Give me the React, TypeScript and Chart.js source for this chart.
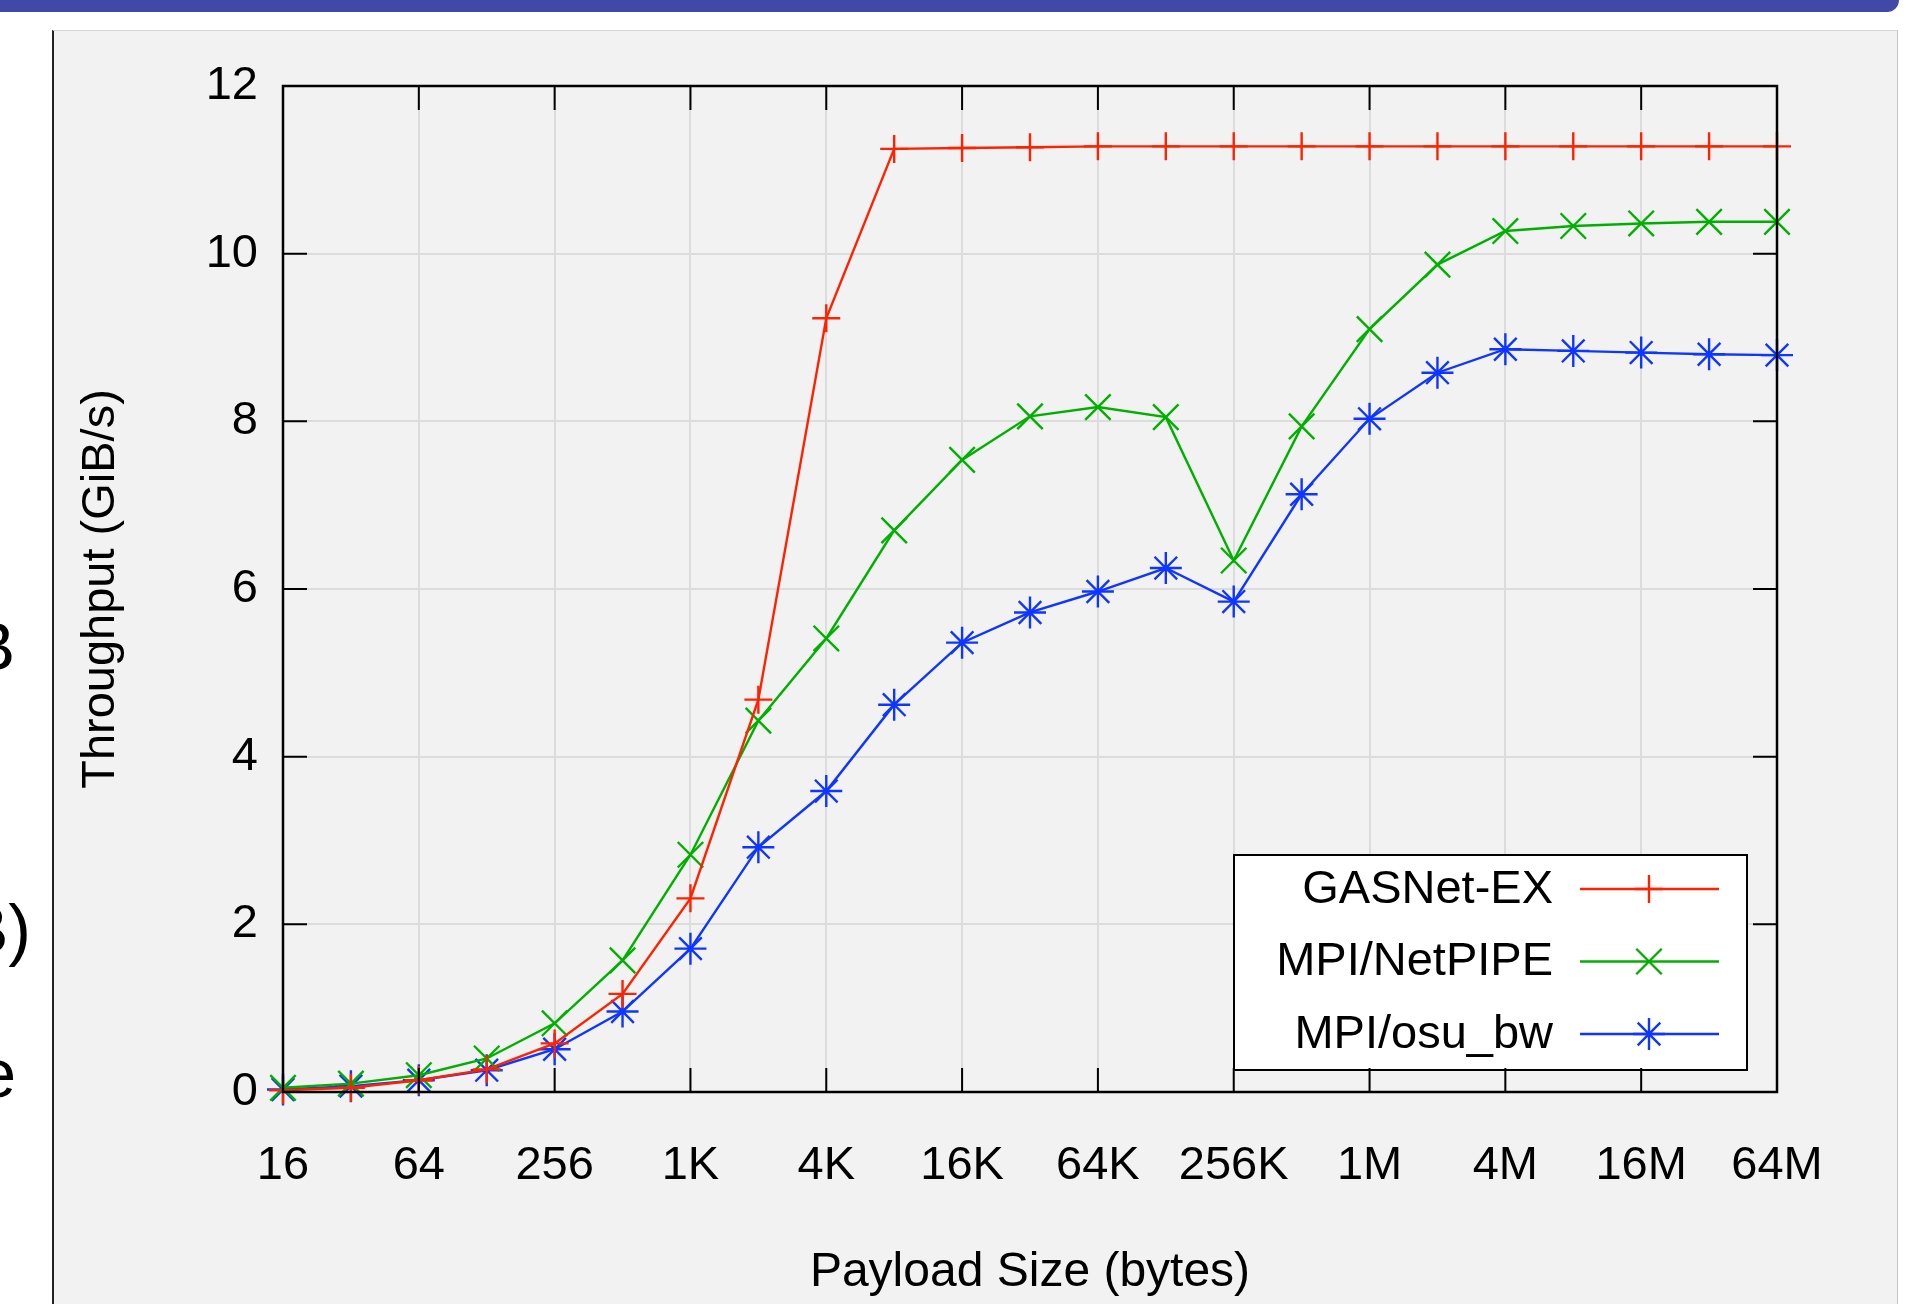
import React, { useEffect, useRef } from 'react';
import { Chart, registerables } from 'chart.js';

Chart.register(...registerables);

// ---- data ----
const sizes = ['16', '32', '64', '128', '256', '512', '1K', '2K', '4K', '8K', '16K', '32K', '64K', '128K', '256K', '512K', '1M', '2M', '4M', '8M', '16M', '32M', '64M'];
const xTickLabels = ['16', '64', '256', '1K', '4K', '16K', '64K', '256K', '1M', '4M', '16M', '64M'];
const yTicks = [0, 2, 4, 6, 8, 10, 12];
const gasnetEx = [0.02, 0.05, 0.14, 0.27, 0.58, 1.17, 2.31, 4.68, 9.23, 11.25, 11.26, 11.27, 11.28, 11.28, 11.28, 11.28, 11.28, 11.28, 11.28, 11.28, 11.28, 11.28, 11.28];
const mpiNetpipe = [0.05, 0.10, 0.20, 0.40, 0.82, 1.57, 2.83, 4.43, 5.41, 6.70, 7.54, 8.06, 8.17, 8.05, 6.34, 7.94, 9.10, 9.87, 10.27, 10.33, 10.36, 10.38, 10.38];
const mpiOsuBw = [0.03, 0.07, 0.14, 0.26, 0.51, 0.96, 1.71, 2.92, 3.59, 4.62, 5.36, 5.72, 5.97, 6.25, 5.85, 7.13, 8.03, 8.58, 8.86, 8.84, 8.82, 8.80, 8.79];
const seriesNames = ['GASNet-EX', 'MPI/NetPIPE', 'MPI/osu_bw'];

const FONT_FAMILY = '"Liberation Sans", Arial, Helvetica, sans-serif';
const FONT_SIZE = 47;
const RED = '#ff2200';
const GREEN = '#00b000';
const BLUE = '#0f36ff';
const LINE_W = 2.4;

function drawMarker(ctx: CanvasRenderingContext2D, style: string, x: number, y: number, r: number) {
  ctx.beginPath();
  const cross = (rad: number) => {
    const c = Math.cos(rad) * r;
    const s = Math.sin(rad) * r;
    ctx.moveTo(x - c, y - s);
    ctx.lineTo(x + c, y + s);
    ctx.moveTo(x + s, y - c);
    ctx.lineTo(x - s, y + c);
  };
  if (style === 'cross') cross(0);
  else if (style === 'crossRot') cross(Math.PI / 4);
  else {
    cross(0);
    cross(Math.PI / 4);
  }
  ctx.stroke();
}

const framePlugin = {
  id: 'gnuplotFrame',
  afterDatasetsDraw(chart: any) {
    const { ctx, chartArea } = chart;
    const { left, right, top, bottom } = chartArea;
    const xs = chart.scales.x;
    const ys = chart.scales.y;
    ctx.save();

    // legend box
    const lx0 = 1234, lx1 = 1747, ly0 = 855, ly1 = 1070;
    ctx.fillStyle = '#ffffff';
    ctx.fillRect(lx0, ly0, lx1 - lx0, ly1 - ly0);
    ctx.strokeStyle = '#000';
    ctx.lineWidth = 2;
    ctx.strokeRect(lx0, ly0, lx1 - lx0, ly1 - ly0);
    ctx.font = `${FONT_SIZE}px ${FONT_FAMILY}`;
    ctx.textAlign = 'right';
    ctx.textBaseline = 'middle';
    chart.data.datasets.forEach((ds: any, i: number) => {
      const cy = 889 + i * 72.5;
      ctx.fillStyle = '#000';
      ctx.fillText(ds.label, 1553, cy + 1);
      ctx.strokeStyle = ds.borderColor;
      ctx.lineWidth = LINE_W;
      ctx.beginPath();
      ctx.moveTo(1580, cy);
      ctx.lineTo(1719, cy);
      ctx.stroke();
      drawMarker(ctx, ds.pointStyle, 1649, cy, ds.pointRadius);
    });

    // border ticks (inward)
    ctx.strokeStyle = '#000';
    ctx.lineWidth = 2;
    ctx.beginPath();
    sizes.forEach((s, i) => {
      if (!xTickLabels.includes(s)) return;
      const px = xs.getPixelForValue(i);
      ctx.moveTo(px, bottom);
      ctx.lineTo(px, bottom - 24);
      ctx.moveTo(px, top);
      ctx.lineTo(px, top + 24);
    });
    yTicks.forEach((v) => {
      const py = ys.getPixelForValue(v);
      ctx.moveTo(left, py);
      ctx.lineTo(left + 24, py);
      ctx.moveTo(right, py);
      ctx.lineTo(right - 24, py);
    });
    ctx.stroke();
    ctx.lineWidth = 2.5;
    ctx.strokeRect(left, top, right - left, bottom - top);
    ctx.restore();
  },
};

export default function App() {
  const canvasRef = useRef<HTMLCanvasElement>(null);

  useEffect(() => {
    const font = { family: FONT_FAMILY, size: FONT_SIZE };
    const mk = (label: string, data: number[], color: string, pointStyle: string, r: number) => ({
      label,
      data,
      borderColor: color,
      backgroundColor: color,
      borderWidth: LINE_W,
      pointStyle,
      pointRadius: r,
      pointBorderWidth: LINE_W,
      pointBorderColor: color,
      pointHoverRadius: r,
      tension: 0,
      fill: false,
      clip: false as any,
    });
    const chart = new Chart(canvasRef.current as HTMLCanvasElement, {
      type: 'line',
      data: {
        labels: sizes,
        datasets: [
          mk(seriesNames[0], gasnetEx, RED, 'cross', 14),
          mk(seriesNames[1], mpiNetpipe, GREEN, 'crossRot', 18),
          mk(seriesNames[2], mpiOsuBw, BLUE, 'star', 16),
        ] as any,
      },
      options: {
        responsive: false,
        animation: false,
        events: [],
        layout: { padding: { left: 0, top: 86, right: 132, bottom: 0 }, autoPadding: false },
        plugins: { legend: { display: false }, tooltip: { enabled: false } },
        scales: {
          x: {
            type: 'category',
            offset: false,
            afterFit: (s: any) => { s.height = 212; },
            border: { display: false },
            grid: {
              drawTicks: false,
              lineWidth: 2,
              color: (c: any) => (xTickLabels.includes(sizes[c.index]) ? '#dcdcdc' : 'rgba(0,0,0,0)'),
            },
            ticks: {
              autoSkip: false,
              maxRotation: 0,
              minRotation: 0,
              padding: 46,
              color: '#000',
              font,
              callback: (_v: any, i: number) => (xTickLabels.includes(sizes[i]) ? sizes[i] : ''),
            },
            title: {
              display: true,
              text: 'Payload Size (bytes)',
              color: '#000',
              font: { family: FONT_FAMILY, size: 48 },
              padding: { top: 0, bottom: 2 },
            },
          },
          y: {
            min: yTicks[0],
            max: yTicks[yTicks.length - 1],
            afterFit: (s: any) => { s.width = 283; },
            border: { display: false },
            grid: { drawTicks: false, lineWidth: 2, color: '#dcdcdc' },
            ticks: { stepSize: 2, padding: 25, color: '#000', font },
            title: {
              display: true,
              text: 'Throughput (GiB/s)',
              color: '#000',
              font,
              padding: { top: 73, bottom: 0 },
            },
          },
        },
      } as any,
      plugins: [framePlugin],
    });
    return () => chart.destroy();
  }, []);

  const frag = (text: string, top: number, right: number) => (
    <div
      style={{
        position: 'absolute',
        left: right - 300,
        width: 300,
        top,
        textAlign: 'right',
        fontSize: 68,
        lineHeight: '68px',
        color: '#000',
        whiteSpace: 'nowrap',
      }}
    >
      {text}
    </div>
  );

  return (
    <div
      style={{
        position: 'absolute',
        left: 0,
        top: 0,
        width: 1909,
        height: 1304,
        background: '#ffffff',
        overflow: 'hidden',
        fontFamily: FONT_FAMILY,
      }}
    >
      <div style={{ position: 'absolute', left: 0, top: 0, width: 1899, height: 12, background: '#4149a8', borderBottomRightRadius: 14 }} />
      {frag('B', 612, 15)}
      {frag('B)', 895, 31)}
      {frag('e', 1039, 16)}
      <div
        style={{
          position: 'absolute',
          left: 52,
          top: 30,
          width: 1846,
          height: 1274,
          background: '#f2f2f2',
          borderTop: '1px solid #d6d6d6',
          borderRight: '1px solid #c4c4c4',
          borderLeft: '2px solid #222',
          boxSizing: 'border-box',
        }}
      />
      <canvas ref={canvasRef} width={1909} height={1304} style={{ position: 'absolute', left: 0, top: 0 }} />
    </div>
  );
}
